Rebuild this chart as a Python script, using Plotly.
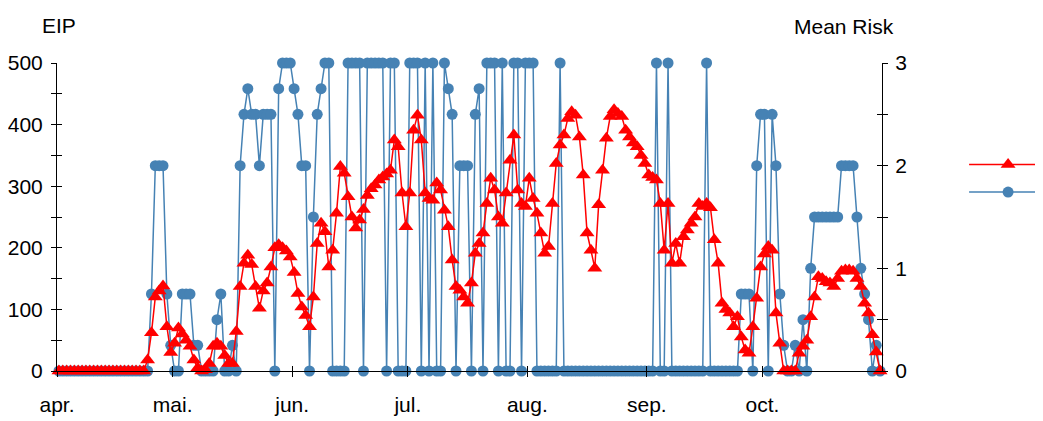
import pandas as pd
import plotly.graph_objects as go

# ---------------- data ----------------
start_date = "2024-04-01 12:00"

eip = [
    0, 0, 0, 0, 0, 0, 0, 0, 0, 0,
    0, 0, 0, 0, 0, 0, 0, 0, 0, 0,
    0, 0, 0, 18, 62, 120, 130, 138, 72, 30,
    45, 70, 60, 50, 40, 18, 5, 0, 2, 12,
    40, 45, 40, 25, 12, 12, 64, 137, 175, 188,
    173, 137, 102, 130, 143, 169, 200, 205, 200, 195,
    185, 160, 126, 104, 90, 72, 120, 207, 240, 226,
    169, 196, 256, 332, 321, 283, 250, 232, 245, 262,
    285, 296, 302, 310, 315, 320, 326, 375, 364, 289,
    234, 289, 391, 415, 375, 289, 280, 277, 305, 294,
    261, 234, 180, 137, 131, 120, 110, 143, 191, 207,
    224, 272, 313, 294, 250, 240, 289, 342, 383, 294,
    272, 267, 313, 280, 256, 224, 191, 202, 272, 337,
    367, 383, 410, 421, 415, 380, 318, 224, 196, 167,
    270, 326, 378, 413, 424, 418, 413, 391, 380, 370,
    364, 350, 337, 318, 314, 310, 272, 196, 272, 175,
    207, 175, 218, 229, 240, 250, 272, 267, 272, 265,
    213, 175, 110, 100, 94, 72, 88, 55, 34, 29,
    72, 118, 169, 190, 202, 196, 94, 45, 0, 0,
    0, 0, 29, 40, 50, 88, 120, 153, 150, 145,
    143, 137, 150, 162, 164, 164, 162, 150, 137, 110,
    94, 59, 31, 0,
]

mean_risk = [
    0, 0, 0, 0, 0, 0, 0, 0, 0, 0,
    0, 0, 0, 0, 0, 0, 0, 0, 0, 0,
    0, 0, 0, 0, 0.75, 2, 2, 2, 0.75, 0.25,
    0, 0, 0.75, 0.75, 0.75, 0.25, 0.25, 0, 0, 0,
    0, 0.5, 0.75, 0, 0, 0.25, 0, 2, 2.5, 2.75,
    2.5, 2.5, 2, 2.5, 2.5, 2.5, 0, 2.75, 3, 3,
    3, 2.75, 2.5, 2, 2, 0, 1.5, 2.5, 2.75, 3,
    3, 0, 0, 0, 0, 3, 3, 3, 3, 0,
    3, 3, 3, 3, 3, 0, 3, 3, 0, 0,
    0, 3, 3, 3, 0, 3, 0, 3, 0, 0,
    3, 2.75, 2.5, 0, 2, 2, 2, 0, 2.5, 2.75,
    0, 3, 3, 3, 0, 3, 0, 0, 3, 3,
    0, 3, 3, 3, 0, 0, 0, 0, 0, 0,
    3, 0, 0, 0, 0, 0, 0, 0, 0, 0,
    0, 0, 0, 0, 0, 0, 0, 0, 0, 0,
    0, 0, 0, 0, 0, 3, 0, 0, 3, 0,
    0, 0, 0, 0, 0, 0, 0, 0, 3, 0,
    0, 0, 0, 0, 0, 0, 0, 0.75, 0.75, 0.75,
    0, 2, 2.5, 2.5, 0, 2.5, 2, 0.75, 0.25, 0,
    0, 0.25, 0, 0.5, 0, 1, 1.5, 1.5, 1.5, 1.5,
    1.5, 1.5, 1.5, 2, 2, 2, 2, 1.5, 1, 0.75,
    0.5, 0, 0.25, 0,
]

month_ticks = ["2024-04-01", "2024-05-01", "2024-06-01", "2024-07-01",
               "2024-08-01", "2024-09-01", "2024-10-01"]
month_labels = ["apr.", "mai.", "jun.", "jul.", "aug.", "sep.", "oct."]
eip_ticks = [0, 100, 200, 300, 400, 500]
eip_minor = [50, 150, 250, 350, 450]
risk_ticks = [0, 1, 2, 3]
risk_minor = [0.5, 1.5, 2.5]

dates = pd.date_range(start_date, periods=len(eip), freq="D")

# ---------------- figure ----------------
FONT = "Liberation Sans, Arial, sans-serif"
RED = "#FF0000"
BLUE = "#4682B4"

fig = go.Figure()

fig.add_trace(go.Scatter(
    x=dates, y=mean_risk, xaxis="x", yaxis="y", name="",
    mode="lines+markers",
    line=dict(color=BLUE, width=1.5),
    marker=dict(symbol="circle", size=11, color=BLUE),
    cliponaxis=False, legendrank=2,
))
fig.add_trace(go.Scatter(
    x=dates, y=eip, xaxis="x", yaxis="y2", name="",
    mode="lines+markers",
    line=dict(color=RED, width=1.5),
    marker=dict(symbol="triangle-up", size=13, color=RED),
    cliponaxis=False, legendrank=1,
))
# empty traces only to materialise the overlay axes that draw the inner tick halves
for xa, ya in (("x2", "y3"), ("x2", "y4")):
    fig.add_trace(go.Scatter(x=[], y=[], xaxis=xa, yaxis=ya, showlegend=False,
                             hoverinfo="skip", mode="lines"))

tickfont = dict(family=FONT, size=21, color="black")
xr = ["2024-04-01", "2024-11-01"]
common = dict(showgrid=False, zeroline=False, automargin=False)

# the page body adds an 8 px offset, so the figure is 8 px smaller and shifted
fig.update_layout(
    width=1035, height=413,
    margin=dict(l=49, r=161, t=55, b=50, autoexpand=False),
    paper_bgcolor="white", plot_bgcolor="white",
    font=dict(family=FONT, size=21, color="black"),
    showlegend=True,
    legend=dict(x=1.0995, y=0.732, xanchor="left", yanchor="top",
                bgcolor="rgba(0,0,0,0)", itemwidth=78,
                font=dict(family=FONT, size=19), tracegroupgap=0),
    xaxis=dict(type="date", range=xr, tickvals=month_ticks, ticktext=month_labels,
               ticks="outside", ticklen=5, tickcolor="black", tickwidth=1,
               showline=True, linecolor="black", linewidth=1,
               tickfont=tickfont, ticklabelstandoff=10, **common),
    xaxis2=dict(type="date", range=xr, overlaying="x", anchor="y3",
                tickvals=month_ticks, side="bottom",
                ticks="inside", ticklen=5, tickcolor="black", tickwidth=1,
                showticklabels=False, showline=False, **common),
    yaxis=dict(side="right", range=[0, 3], tickvals=risk_ticks,
               ticks="outside", ticklen=5, tickcolor="black",
               minor=dict(tickvals=risk_minor, ticks="outside", ticklen=5,
                          tickcolor="black", showgrid=False),
               showline=True, linecolor="black", linewidth=1,
               tickfont=tickfont, ticklabelstandoff=3, **common),
    yaxis2=dict(side="left", overlaying="y", range=[0, 500], tickvals=eip_ticks,
                ticks="outside", ticklen=5, tickcolor="black",
                minor=dict(tickvals=eip_minor, ticks="outside",
                           ticklen=5, tickcolor="black", showgrid=False),
                showline=True, linecolor="black", linewidth=1,
                tickfont=tickfont, ticklabelstandoff=4, **common),
    yaxis3=dict(side="left", overlaying="y", anchor="x2", range=[0, 500],
                tickvals=eip_ticks,
                ticks="inside", ticklen=5, tickcolor="black",
                minor=dict(tickvals=eip_minor, ticks="inside",
                           ticklen=5, tickcolor="black", showgrid=False),
                showticklabels=False, showline=False, **common),
    yaxis4=dict(side="right", overlaying="y", anchor="x2", range=[0, 3],
                tickvals=risk_ticks,
                ticks="inside", ticklen=5, tickcolor="black",
                minor=dict(tickvals=risk_minor, ticks="inside", ticklen=5,
                           tickcolor="black", showgrid=False),
                showticklabels=False, showline=False, **common),
    annotations=[
        dict(text="EIP", xref="paper", yref="paper", x=0.002, y=1.123,
             xanchor="center", yanchor="middle", showarrow=False,
             font=dict(family=FONT, size=21, color="black")),
        dict(text="Mean Risk", xref="paper", yref="paper", x=0.954, y=1.118,
             xanchor="center", yanchor="middle", showarrow=False,
             font=dict(family=FONT, size=21, color="black")),
    ],
)

fig.write_html("out.html")
